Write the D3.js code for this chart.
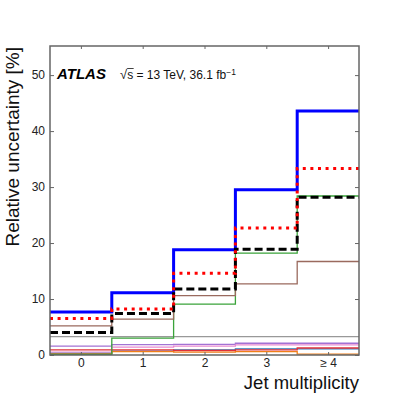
<!DOCTYPE html>
<html>
<head>
<meta charset="utf-8">
<script src="https://cdn.jsdelivr.net/npm/d3@7"></script>
<style>
  body { margin: 0; background: #fff; }
  text { font-family: "Liberation Sans", Arial, sans-serif; }
</style>
</head>
<body>
<div id="chart"></div>
<script>
// bins of jet multiplicity
const bins = [0, 1, 2, 3, 4];
const binLabels = ['0', '1', '2', '3', '\u2265 4'];
const yTicks = [0, 10, 20, 30, 40, 50];

// relative uncertainties [%] per bin
const totalUnc = [7.7, 11.1, 18.8, 29.5, 43.6];
const redDotted = [6.5, 8.2, 14.6, 22.7, 33.3];
const blackDashed = [4.0, 7.4, 11.8, 18.9, 28.2];
const greenUnc = [0.1, 3.0, 9.1, 18.2, 28.4];
const brownUnc = [5.2, 6.4, 10.6, 12.7, 16.7];
const grayUnc = [3.3, 3.3, 3.3, 3.3, 3.3];
const purpleUnc = [1.6, 1.85, 1.9, 2.1, 2.1];
const pinkUnc = [0.5, 1.4, 1.6, 1.8, 1.8];
const redUnc = [0.9, 0.9, 0.8, 0.9, 1.25];
const steelUnc = [0.3, 0.7, 0.9, 1.1, 1.1];
const orangeUnc = [0.2, 0.6, 0.5, 0.6, 0.15];

const W = 399, H = 399;
const margin = { top: 46, right: 40, bottom: 44, left: 50 };
const width = W - margin.left - margin.right;
const height = H - margin.top - margin.bottom;

const svg = d3.select('#chart').append('svg')
  .attr('width', W).attr('height', H);

const g = svg.append('g')
  .attr('transform', `translate(${margin.left},${margin.top})`);

const x = d3.scaleLinear().domain([-0.5, 4.5]).range([0, width]);
const y = d3.scaleLinear().domain([0, 55.2]).range([height, 0]);

// step line: each bin spans [i-0.5, i+0.5]
const stepLine = d3.line()
  .x((d) => x(d[0]))
  .y((d) => y(d[1]))
  .curve(d3.curveStepAfter);

const toSteps = (vals) => {
  const pts = bins.map((b, i) => [b - 0.5, vals[i]]);
  pts.push([bins[bins.length - 1] + 0.5, vals[vals.length - 1]]);
  return pts;
};

const series = [
  { vals: grayUnc, color: '#999999', w: 1.3 },
  { vals: purpleUnc, color: '#a372d4', w: 1.3 },
  { vals: pinkUnc, color: '#e88ad0', w: 1.3 },
  { vals: steelUnc, color: '#2a78b8', w: 1.3 },
  { vals: redUnc, color: '#e0303a', w: 1.3 },
  { vals: orangeUnc, color: '#f07f1a', w: 1.3 },
  { vals: greenUnc, color: '#3aa33a', w: 1.3 },
  { vals: brownUnc, color: '#9a6a5e', w: 1.3 },
  { vals: totalUnc, color: '#0000ff', w: 3 },
  { vals: blackDashed, color: '#000000', w: 3, dash: '8,4' },
  { vals: redDotted, color: '#ff0000', w: 3, dash: '3,4.6' }
];

series.forEach((s) => {
  g.append('path')
    .datum(toSteps(s.vals))
    .attr('fill', 'none')
    .attr('stroke', s.color)
    .attr('stroke-width', s.w)
    .attr('stroke-dasharray', s.dash || null)
    .attr('d', stepLine);
});

// axes with inward ticks
const axisColor = '#666';
const styleAxis = (sel) => {
  sel.select('.domain').remove();
  sel.selectAll('.tick line').attr('stroke', axisColor).attr('stroke-width', 1);
  sel.selectAll('.tick text')
    .attr('fill', '#222')
    .style('font-size', '12px')
    .style('font-family', '"Liberation Sans", Arial, sans-serif');
};

g.append('g')
  .attr('transform', `translate(0,${height})`)
  .call(d3.axisBottom(x).tickValues(bins).tickSize(-3).tickPadding(3)
    .tickFormat((d, i) => binLabels[i]))
  .call(styleAxis);

g.append('g')
  .call(d3.axisTop(x).tickValues(bins).tickSize(-3).tickFormat(''))
  .call(styleAxis);

g.append('g')
  .call(d3.axisLeft(y).tickValues(yTicks).tickSize(-4).tickPadding(5))
  .call(styleAxis);

g.append('g')
  .attr('transform', `translate(${width},0)`)
  .call(d3.axisRight(y).tickValues(yTicks).tickSize(-4).tickFormat(''))
  .call(styleAxis);

// frame
g.append('rect')
  .attr('width', width).attr('height', height)
  .attr('fill', 'none')
  .attr('stroke', axisColor)
  .attr('stroke-width', 1.5);

// axis titles
svg.append('text')
  .attr('transform', `translate(19,${margin.top + 1}) rotate(-90)`)
  .attr('text-anchor', 'end')
  .style('font-size', '19px')
  .attr('fill', '#111')
  .text('Relative uncertainty [%]');

svg.append('text')
  .attr('x', margin.left + width)
  .attr('y', 389)
  .attr('text-anchor', 'end')
  .style('font-size', '18.5px')
  .attr('fill', '#111')
  .text('Jet multiplicity');

// ATLAS label
svg.append('text')
  .attr('x', 57).attr('y', 79)
  .style('font-size', '15px')
  .style('font-weight', 'bold')
  .style('font-style', 'italic')
  .text('ATLAS');

const info = svg.append('text')
  .attr('x', 120).attr('y', 79)
  .style('font-size', '12px')
  .attr('fill', '#111');
info.append('tspan').style('font-size', '13px').text('\u221A');
const sSpan = info.append('tspan').text('s');
info.append('tspan').text(' = 13 TeV, 36.1 fb');
info.append('tspan').attr('dy', -4.5).style('font-size', '8.5px').text('\u22121');

// overline on s
const sBox = sSpan.node().getExtentOfChar(0);
svg.append('line')
  .attr('x1', sBox.x).attr('x2', sBox.x + sBox.width + 0.5)
  .attr('y1', 79 - 10.5).attr('y2', 79 - 10.5)
  .attr('stroke', '#111').attr('stroke-width', 0.8);
</script>
</body>
</html>
